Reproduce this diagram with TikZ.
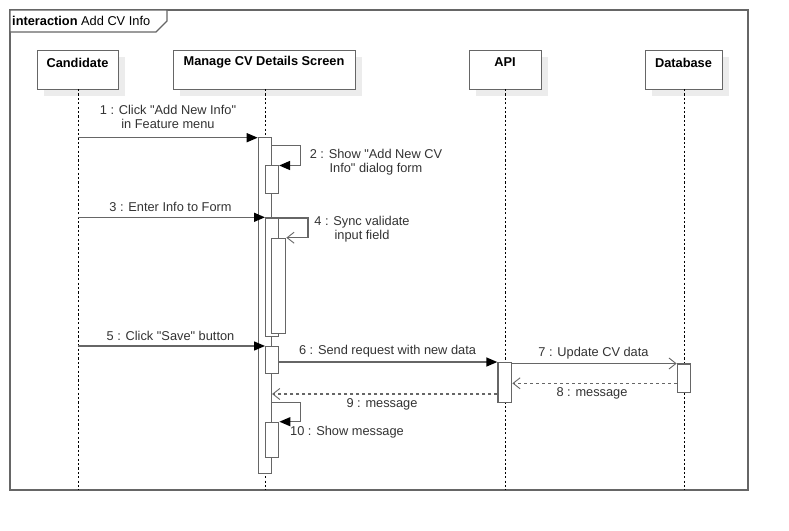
\documentclass[tikz,border=0pt]{standalone}
\usepackage{fontspec}
\setmainfont{Liberation Sans}[Ligatures=TeXOff]
\usetikzlibrary{arrows.meta,calc}
\definecolor{lg}{RGB}{102,102,102}
\definecolor{tx}{RGB}{51,51,51}
\definecolor{sh}{RGB}{236,236,236}
\tikzset{
  fr/.style={draw=lg,line width=1.4pt},
  headbox/.style={draw=lg,line width=1.4pt,fill=white,rectangle,inner sep=0pt,anchor=north west},
  headtxt/.style={font=\fontsize{12.8}{14}\selectfont\bfseries,text=black,inner sep=0pt,anchor=center},
  shadowbox/.style={fill=sh,draw=none},
  bar/.style={draw=lg,line width=1.4pt,fill=white,rectangle,inner sep=0pt,anchor=north west},
  lifel/.style={draw=black,line width=0.8pt,dash pattern=on 2.2pt off 2.2pt},
  msg/.style={draw=lg,line width=1.4pt,-{Triangle[length=11pt,width=9pt,color=black]}},
  ret/.style={draw=lg,line width=1.4pt,dash pattern=on 3pt off 3pt,-{Straight Barb[length=7pt,width=11pt,line width=0.9pt]}},
  opn/.style={draw=lg,line width=1.4pt,-{Straight Barb[length=7pt,width=11pt,line width=0.9pt]}},
  lbl/.style={font=\fontsize{12.8}{14}\selectfont,text=tx,inner sep=0pt,align=center,anchor=center},
}
\begin{document}
\begin{tikzpicture}[x=1pt,y=-1pt]
\useasboundingbox (0,0) rectangle (789,530);
\fill[white] (0,0) rectangle (789,530);
% frame
\draw[fr] (10,10) rectangle (748,490);
\draw[fr,fill=white] (10,10) -- (167,10) -- (167,21) -- (156,32) -- (10,32) -- cycle;
\node[font=\fontsize{12.8}{14}\selectfont,text=black,inner sep=0pt,anchor=base west] (title) at (12,25) {\textbf{interaction} Add CV Info};
% lifeline heads (shadows)
\fill[shadowbox] (44,57) rectangle (125,96);
\fill[shadowbox] (180,57) rectangle (362,96);
\fill[shadowbox] (476,57) rectangle (548,96);
\fill[shadowbox] (652,57) rectangle (729,96);
\node[headbox,minimum width=81pt,minimum height=39pt] (cand) at (37,50) {};
\node[headbox,minimum width=182pt,minimum height=39pt] (mgr) at (173,50) {};
\node[headbox,minimum width=72pt,minimum height=39pt] (api) at (469,50) {};
\node[headbox,minimum width=77pt,minimum height=39pt] (db) at (645,50) {};
\node[headtxt] (candt) at (77.5,62.5) {Candidate};
\node[headtxt] (mgrt) at (264,62.5) {Manage CV Details Screen};
\node[headtxt] (apit) at (505,62.5) {API};
\node[headtxt] (dbt) at (683.5,62.5) {Database};
% lifelines
\coordinate (candend) at (78,490);
\coordinate (mgrend) at (265.7,490);
\coordinate (apiend) at (505.7,490);
\coordinate (dbend) at (684,490);
\draw[lifel] (78,89) -- (candend);
\draw[lifel] (265.7,89) -- (mgrend);
\draw[lifel] (505.7,89) -- (apiend);
\draw[lifel] (684,89) -- (dbend);
% activation bars
\node[bar,minimum width=13pt,minimum height=336pt] (main) at (257.7,137) {};
\node[bar,minimum width=12.7pt,minimum height=28pt] (b2) at (265,165) {};
\node[bar,minimum width=12.7pt,minimum height=118.7pt] (b3) at (265,217.3) {};
\node[bar,minimum width=14.3pt,minimum height=95pt] (b4) at (270.7,237.7) {};
\node[bar,minimum width=13pt,minimum height=27pt] (b5) at (265,346) {};
\node[bar,minimum width=13pt,minimum height=35.3pt] (b10) at (265,421.7) {};
\node[bar,minimum width=13.7pt,minimum height=40pt] (apib) at (497.3,361.7) {};
\node[bar,minimum width=13.3pt,minimum height=28.4pt] (dbb) at (676.7,363.3) {};
% message anchors
\coordinate (m1) at (78,137.7);
\coordinate (m3) at (78,217.3);
\coordinate (m5) at (78,346);
% 1
\draw[msg] (m1) -- (m1 -| main.west);
\node[lbl] (l1) at (168,117) {1 : Click "Add New Info"\\in Feature menu};
% 2
\draw[msg] (main.east |- 0,145.5) -- (300.5,145.5) -- (300.5,165.5) -- (b2.east |- 0,165.5);
\node[lbl] (l2) at (376,162.5) {2 : Show "Add New CV\\Info" dialog form};
% 3
\draw[msg] (m3) -- (m3 -| b3.west);
\node[lbl] (l3) at (170.5,207) {3 : Enter Info to Form};
% 4
\draw[opn] (b3.east |- 0,217.8) -- (308,217.8) -- (308,237.7) -- (b4.east |- 0,237.7);
\node[lbl] (l4) at (362,229.5) {4 : Sync validate\\input field};
% 5
\draw[msg] (m5) -- (m5 -| b5.west);
\node[lbl] (l5) at (170.5,335.5) {5 : Click "Save" button};
% 6
\draw[msg] (b5.east |- 0,362) -- (apib.west |- 0,362);
\node[lbl] (l6) at (387.5,351.5) {6 : Send request with new data};
% 7
\draw[opn] (apib.east |- 0,363.5) -- (dbb.west |- 0,363.5);
\node[lbl] (l7) at (593.5,353) {7 : Update CV data};
% 8
\draw[ret] (dbb.west |- 0,383.3) -- (apib.east |- 0,383.3);
\node[lbl] (l8) at (592,393.5) {8 : message};
% 9
\draw[ret] (apib.west |- 0,394) -- (main.east |- 0,394);
\node[lbl] (l9) at (382,404) {9 : message};
% 10
\draw[msg] (main.east |- 0,402.3) -- (300.5,402.3) -- (300.5,421.7) -- (b10.east |- 0,421.7);
\node[lbl] (l10) at (347,432) {10 : Show message};
\end{tikzpicture}
\end{document}
